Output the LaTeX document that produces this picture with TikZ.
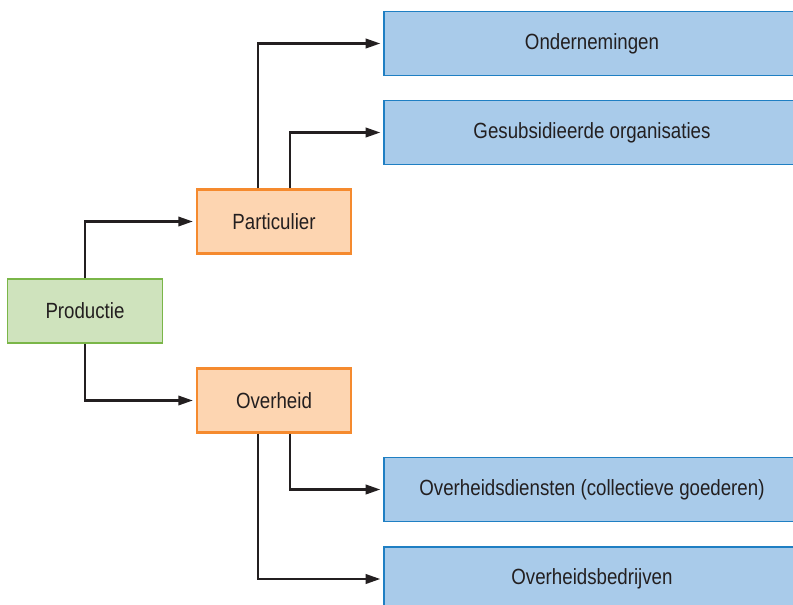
\documentclass[tikz,border=0pt]{standalone}
\usepackage{fontspec}
\setmainfont[FakeStretch=0.85]{Liberation Sans}
\usetikzlibrary{arrows.meta}
\definecolor{lijn}{HTML}{231F20}
\definecolor{groenvul}{HTML}{CFE3BD}
\definecolor{groenrand}{HTML}{7AB648}
\definecolor{oranjevul}{HTML}{FDD5B1}
\definecolor{oranjerand}{HTML}{F58A2E}
\definecolor{blauwvul}{HTML}{A9CBEA}
\definecolor{blauwrand}{HTML}{1F7FC3}
\tikzset{ p/.style = { rectangle % productie
        , draw = groenrand
        , fill = groenvul
        , line width = 1.2pt
        , minimum width = 116pt
        , minimum height = 48pt
        , font = \fontsize{16.5}{19}\selectfont\color{lijn}
        }
        , s/.style = { rectangle % sector
        , draw = oranjerand
        , fill = oranjevul
        , line width = 1.6pt
        , minimum width = 116pt
        , minimum height = 48pt
        , font = \fontsize{16.5}{19}\selectfont\color{lijn}
        }
        , o/.style = { rectangle % organisatievorm
        , draw = blauwrand
        , fill = blauwvul
        , line width = 1.4pt
        , minimum width = 312pt
        , minimum height = 48pt
        , font = \fontsize{16.5}{19}\selectfont\color{lijn}
        }
        }

\begin{document}
\begin{tikzpicture}[x=0.75pt, y=-0.75pt,
        edge_style/.style={draw=lijn, line width=1.9pt, -{Triangle[length=11pt,width=7pt]}, shorten >=2pt}]
        \clip (0,0) rectangle (793,604);

        \node [p] (prod) at (85,311) {Productie};
        \node [s] (part) at (274,221.5) {Particulier};
        \node [s] (over) at (274,400.5) {Overheid};
        \node [o] (onder) at (592,43.5) {Ondernemingen};
        \node [o] (gesub) at (592,132.5) {Gesubsidieerde organisaties};
        \node [o] (dienst) at (592,489.5) {Overheidsdiensten (collectieve goederen)};
        \node [o] (bedrijf) at (592,579) {Overheidsbedrijven};

        \draw [edge_style] (prod.north) |- (part.west);
        \draw [edge_style] (prod.south) |- (over.west);
        \draw [edge_style] ([xshift=-12pt]part.north) |- (onder.west);
        \draw [edge_style] ([xshift=12pt]part.north) |- (gesub.west);
        \draw [edge_style] ([xshift=12pt]over.south) |- (dienst.west);
        \draw [edge_style] ([xshift=-12pt]over.south) |- (bedrijf.west);

\end{tikzpicture}
\end{document}
